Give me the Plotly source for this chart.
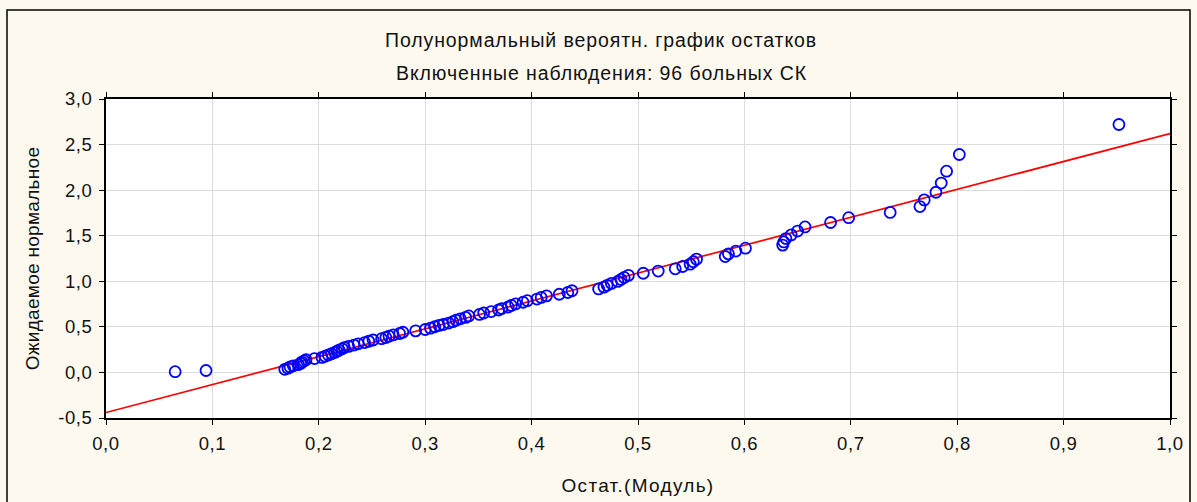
import plotly.graph_objects as go

# Expected normal values (half-normal) by rank
expected_normal = [
    0.008, 0.021, 0.034, 0.047, 0.060, 0.073, 0.086, 0.099, 0.113, 0.126,
    0.139, 0.152, 0.165, 0.178, 0.192, 0.205, 0.219, 0.232, 0.245, 0.259,
    0.273, 0.286, 0.300, 0.314, 0.328, 0.342, 0.356, 0.370, 0.383, 0.398,
    0.412, 0.427, 0.441, 0.456, 0.471, 0.486, 0.501, 0.516, 0.526, 0.542,
    0.557, 0.573, 0.588, 0.604, 0.620, 0.636, 0.652, 0.668, 0.685, 0.701,
    0.718, 0.735, 0.752, 0.770, 0.787, 0.805, 0.823, 0.840, 0.858, 0.877,
    0.896, 0.916, 0.936, 0.956, 0.977, 0.998, 1.020, 1.042, 1.065, 1.088,
    1.112, 1.137, 1.162, 1.188, 1.215, 1.243, 1.271, 1.301, 1.332, 1.363,
    1.397, 1.432, 1.469, 1.509, 1.551, 1.596, 1.645, 1.698, 1.755, 1.820,
    1.893, 1.977, 2.078, 2.208, 2.391, 2.720,
]

# Absolute residuals
abs_residuals = [
    0.065, 0.094, 0.168, 0.171, 0.173, 0.176, 0.181, 0.183, 0.184, 0.186,
    0.188, 0.196, 0.203, 0.206, 0.209, 0.212, 0.215, 0.217, 0.219, 0.222,
    0.224, 0.228, 0.233, 0.237, 0.243, 0.247, 0.251, 0.259, 0.263, 0.266,
    0.270, 0.276, 0.279, 0.291, 0.300, 0.305, 0.309, 0.313, 0.317, 0.322,
    0.326, 0.329, 0.333, 0.338, 0.341, 0.351, 0.355, 0.362, 0.369, 0.372,
    0.378, 0.381, 0.385, 0.392, 0.396, 0.405, 0.409, 0.414, 0.426, 0.434,
    0.438, 0.463, 0.468, 0.471, 0.475, 0.481, 0.484, 0.487, 0.491, 0.505,
    0.519, 0.535, 0.542, 0.549, 0.552, 0.555, 0.582, 0.585, 0.592, 0.601,
    0.636, 0.637, 0.639, 0.644, 0.650, 0.657, 0.681, 0.698, 0.737, 0.765,
    0.769, 0.780, 0.785, 0.790, 0.802, 0.952,
]

# Reference line
line_x = [0.0, 1.0]
line_intercept = -0.44
line_slope = 3.06
line_y = [line_intercept + line_slope * v for v in line_x]

x_ticks = [0.0, 0.1, 0.2, 0.3, 0.4, 0.5, 0.6, 0.7, 0.8, 0.9, 1.0]
x_tick_labels = ["0,0", "0,1", "0,2", "0,3", "0,4", "0,5", "0,6", "0,7", "0,8", "0,9", "1,0"]
y_ticks = [-0.5, 0.0, 0.5, 1.0, 1.5, 2.0, 2.5, 3.0]
y_tick_labels = ["-0,5", "0,0", "0,5", "1,0", "1,5", "2,0", "2,5", "3,0"]

title_line1 = "Полунормальный вероятн. график остатков"
title_line2 = "Включенные наблюдения: 96 больных СК"
x_title = "Остат.(Модуль)"
y_title = "Ожидаемое нормальное"

FONT = "Liberation Sans, Arial, sans-serif"
TXT = "#111111"


def spaced(text, px):
    return '<span style="letter-spacing:%.1fpx">%s</span>' % (px, text)


W, H = 1197, 502
ML, MR, MT, MB = 106, 27, 99, 84
plot_w = W - ML - MR
plot_h = H - MT - MB


def px(pixel_x):
    return (pixel_x - ML) / plot_w


def py(pixel_y):
    return (H - MB - pixel_y) / plot_h


fig = go.Figure()
fig.add_trace(go.Scatter(
    x=line_x, y=line_y, mode="lines",
    line=dict(color="#FF0000", width=1.7),
    hoverinfo="skip", showlegend=False,
))
fig.add_trace(go.Scatter(
    x=abs_residuals, y=expected_normal, mode="markers",
    marker=dict(symbol="circle-open", size=11, color="#0000FF",
                line=dict(width=1.8, color="#0000FF")),
    showlegend=False,
))

axis_common = dict(
    showline=True, linecolor="black", linewidth=1.6, mirror="ticks",
    ticks="outside", ticklen=5, tickcolor="black", tickwidth=1.2,
    showgrid=True, gridcolor="#DCDCDC", gridwidth=1,
    zeroline=False, tickfont=dict(family=FONT, size=18.5, color=TXT),
    automargin=False,
)

fig.update_xaxes(
    range=[0, 1.0], tickvals=x_ticks,
    ticktext=[spaced(t, 0.6) for t in x_tick_labels],
    ticklabelstandoff=3,
    title=dict(text=spaced(x_title, 1.3), font=dict(family=FONT, size=19, color=TXT), standoff=26),
    **axis_common,
)
fig.update_yaxes(
    range=[-0.5, 3.0], tickvals=y_ticks,
    ticktext=[spaced(t, 0.6) for t in y_tick_labels],
    ticklabelstandoff=3,
    title=dict(text=spaced(y_title, 0.3), font=dict(family=FONT, size=19, color=TXT), standoff=14),
    **axis_common,
)

fig.update_layout(
    width=W, height=H,
    margin=dict(l=ML, r=MR, t=MT, b=MB, autoexpand=False),
    paper_bgcolor="#FDF9EE", plot_bgcolor="white",
    font=dict(family=FONT, color=TXT),
    annotations=[
        dict(text=spaced(title_line1, 0.9), x=px(601), y=py(40), xref="paper", yref="paper",
             yanchor="middle", showarrow=False,
             font=dict(family=FONT, size=19.5, color=TXT)),
        dict(text=spaced(title_line2, 0.9), x=px(601), y=py(73), xref="paper", yref="paper",
             yanchor="middle", showarrow=False,
             font=dict(family=FONT, size=19.5, color=TXT)),
    ],
    shapes=[dict(type="rect", xref="paper", yref="paper",
                 x0=px(7), x1=px(1190), y0=py(540), y1=py(10),
                 line=dict(color="black", width=1.5), layer="below")],
)

fig.write_html("out.html")
